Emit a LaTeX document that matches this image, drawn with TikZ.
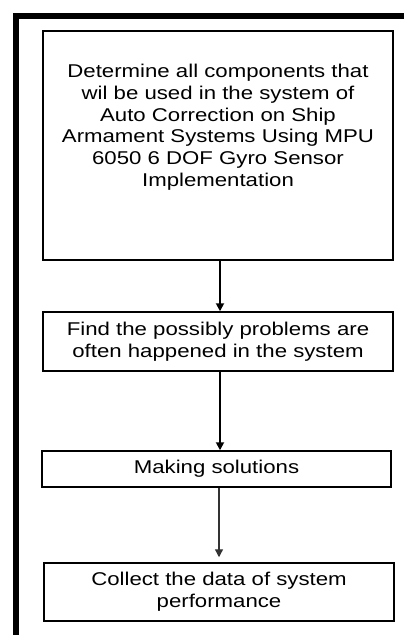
\documentclass[tikz,border=0pt]{standalone}
\usepackage{fontspec}
\setmainfont[FakeStretch=1.2]{Liberation Sans}
\usetikzlibrary{arrows.meta}
\begin{document}
\begin{tikzpicture}[x=1pt,y=-1pt,
  box/.style={draw=black, line width=1.5pt, rectangle, inner sep=0pt},
  txt/.style={align=center, inner sep=0pt, font=\fontsize{18.5}{21.7}\selectfont, text=black},
  arr/.style={draw=black, line width=1.8pt, -{Triangle[width=8pt,length=8pt]}},
  frame/.style={line width=6pt, line cap=butt}]
\useasboundingbox (0,0) rectangle (404,635);
% outer frame (top and left)
\coordinate (fa) at (404,16);
\coordinate (fc) at (16,16);
\coordinate (fb) at (16,635);
\draw[frame] (fa) -- (13,16);
\draw[frame] (fc) -- (fb);
% boxes
\node[box, minimum width=350pt, minimum height=229pt] (b1) at (218,145.5) {};
\node[txt, anchor=north] (t1) at (218,64) {Determine all components that\\wil be used in the system of\\Auto Correction on Ship\\Armament Systems Using MPU\\6050 6 DOF Gyro Sensor\\Implementation};
\node[box, minimum width=350pt, minimum height=59pt, txt] (b2) at (218,341.5) {Find the possibly problems are\\often happened in the system};
\node[box, minimum width=349pt, minimum height=36pt, txt] (b3) at (216.5,469) {Making solutions};
\node[box, minimum width=350pt, minimum height=58pt, txt] (b4) at (219,592) {Collect the data of system\\performance};
% connectors
\draw[arr] ([xshift=2pt]b1.south) -- ([xshift=2pt]b1.south |- b2.north);
\draw[arr] ([xshift=2pt]b2.south) -- ([xshift=2pt]b2.south |- b3.north);
\draw[arr, line width=1.3pt, draw=black!80, shorten >=5pt] ([xshift=2.5pt]b3.south) -- ([xshift=2.5pt]b3.south |- b4.north);
\end{tikzpicture}
\end{document}
